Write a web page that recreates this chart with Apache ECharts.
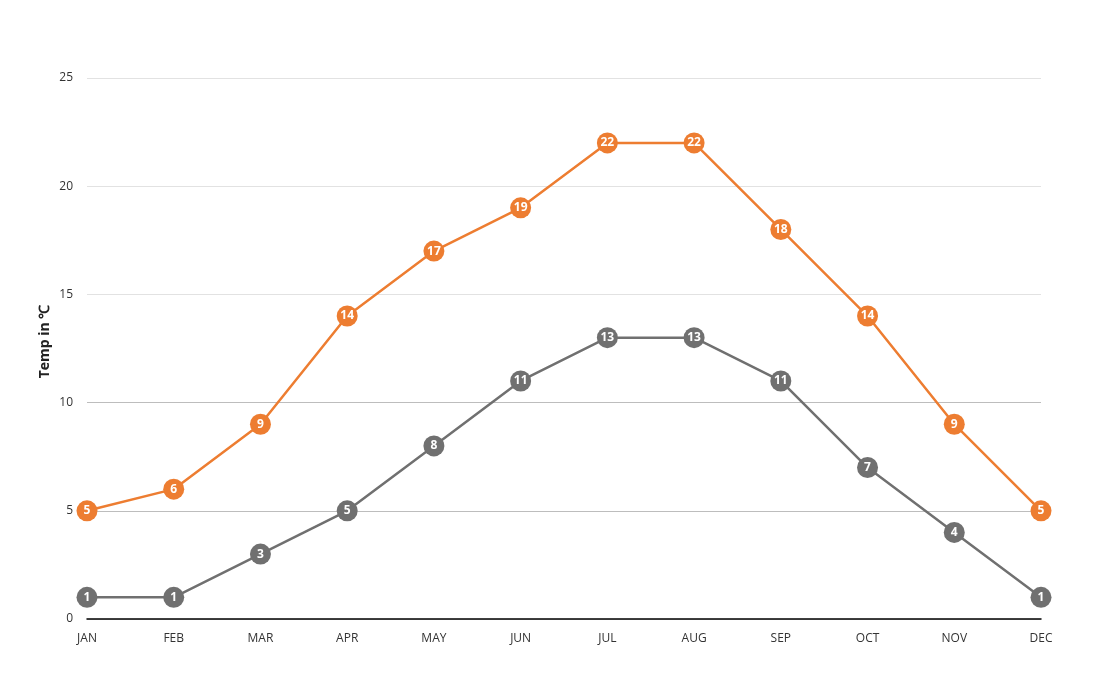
<!DOCTYPE html>
<html>
<head>
<meta charset="utf-8">
<script src="https://cdn.jsdelivr.net/npm/echarts@6/dist/echarts.min.js"></script>
<style>
  html, body { margin: 0; padding: 0; background: #fff; }
  #main { width: 1120px; height: 700px; }
</style>
</head>
<body>
<div id="main"></div>
<script>
// months on the x axis
var months = ['JAN','FEB','MAR','APR','MAY','JUN','JUL','AUG','SEP','OCT','NOV','DEC'];
// high temps (orange) and low temps (gray)
var highTemps = [5, 6, 9, 14, 17, 19, 22, 22, 18, 14, 9, 5];
var lowTemps = [1, 1, 3, 5, 8, 11, 13, 13, 11, 7, 4, 1];

var chart = echarts.init(document.getElementById('main'));

function makeSeries(name, data, color) {
    return {
        name: name,
        type: 'line',
        data: data,
        symbol: 'circle',
        symbolSize: 21,
        lineStyle: { color: color, width: 2.5 },
        itemStyle: { color: color },
        label: {
            show: true,
            position: 'inside',
            color: '#fff',
            fontWeight: 'bold',
            fontSize: 12,
            fontFamily: 'Open Sans'
        },
        emphasis: { disabled: true },
        animation: false
    };
}

var option = {
    backgroundColor: '#fff',
    grid: { left: 87, right: 79, top: 78, bottom: 81 },
    xAxis: {
        type: 'category',
        boundaryGap: false,
        data: months,
        axisLine: { lineStyle: { color: '#000', width: 1.5 } },
        axisTick: { show: false },
        axisLabel: { color: '#333', fontSize: 12, margin: 14, fontFamily: 'Open Sans' }
    },
    yAxis: {
        type: 'value',
        min: 0,
        max: 25,
        interval: 5,
        name: 'Temp in ℃',
        nameLocation: 'middle',
        nameGap: 35,
        nameMoveOverlap: false,
        nameTextStyle: { color: '#222', fontSize: 14, fontWeight: 'bold', fontFamily: 'Open Sans', padding: [0, 0, 0, 14] },
        axisLine: { show: false },
        axisTick: { show: false },
        axisLabel: { color: '#333', fontSize: 12, margin: 14, fontFamily: 'Open Sans' },
        splitLine: {
            lineStyle: {
                color: ['#ddd', '#bdbdbd', '#bdbdbd', '#e2e2e2', '#e2e2e2', '#e2e2e2'],
                width: 1
            }
        }
    },
    series: [
        makeSeries('Low', lowTemps, '#707070'),
        makeSeries('High', highTemps, '#ED7D31')
    ]
};

chart.setOption(option);
</script>
</body>
</html>
